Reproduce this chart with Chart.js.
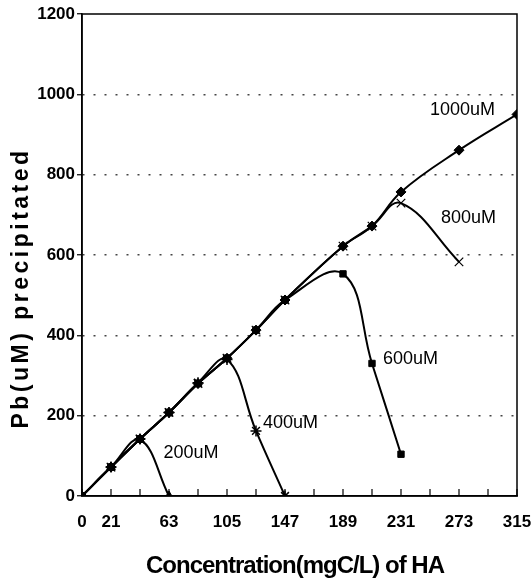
<!DOCTYPE html>
<html>
<head>
<meta charset="utf-8">
<script src="https://cdn.jsdelivr.net/npm/chart.js@4.4.0/dist/chart.umd.min.js"></script>
<style>
  html, body { margin: 0; padding: 0; background: #fff; }
  #wrap { width: 531px; height: 584px; }
</style>
</head>
<body>
<div id="wrap"><canvas id="haChart" width="531" height="584"></canvas></div>
<script>
// axis ticks: every 21 mgC/L on x, but only some carry a label
const xTickLabels = [0, 21, 63, 105, 147, 189, 231, 273, 315];
const yTickValues = [0, 200, 400, 600, 800, 1000, 1200];

// Pb precipitated (uM) vs HA concentration, one series per initial Pb
const conc200 = [0, 21, 42, 63];
const pb200 = [0, 72, 140, 0];
const conc400 = [0, 21, 42, 63, 84, 105, 126, 147];
const pb400 = [0, 72, 142, 208, 282, 340, 162, 0];
const conc600 = [0, 21, 42, 63, 84, 105, 126, 147, 189, 210, 231];
const pb600 = [0, 72, 142, 208, 280, 343, 413, 488, 553, 330, 104];
const conc800 = [0, 21, 42, 63, 84, 105, 126, 147, 189, 210, 231, 273];
const pb800 = [0, 72, 142, 208, 280, 343, 413, 488, 622, 672, 729, 583];
const conc1000 = [0, 21, 42, 63, 84, 105, 126, 147, 189, 210, 231, 273, 315];
const pb1000 = [0, 72, 142, 208, 280, 343, 413, 488, 622, 672, 757, 861, 950];

const seriesNames = ['200uM', '400uM', '600uM', '800uM', '1000uM'];

const FONT = "'Liberation Sans', Arial, sans-serif";

function toPoints(xs, ys) {
    return xs.map((x, i) => ({ x: x, y: ys[i] }));
}

function makeSeries(name, xs, ys, style, radius, border) {
    return {
        label: name,
        data: toPoints(xs, ys),
        borderColor: '#000',
        backgroundColor: '#000',
        borderWidth: 2,
        tension: 0.4,
        pointStyle: style,
        pointRadius: radius,
        pointBorderWidth: border,
        pointBackgroundColor: '#000',
        pointBorderColor: '#000'
    };
}

// where each series name is written (left edge, vertical middle), in data units
const seriesLabelSpots = {
    '1000uM': [252, 960],
    '800uM': [260, 691],
    '600uM': [218, 341],
    '400uM': [131, 182],
    '200uM': [59, 107]
};

const framePlugin = {
    id: 'frame',
    afterDraw(chart) {
        const ctx = chart.ctx;
        const area = chart.chartArea;
        const xs = chart.scales.x;
        const ys = chart.scales.y;
        ctx.save();

        // closed box around the plot
        ctx.strokeStyle = '#000';
        ctx.lineWidth = 1.5;
        ctx.setLineDash([]);
        ctx.strokeRect(area.left, area.top, area.right - area.left, area.bottom - area.top);

        // small x ticks pointing into the plot
        ctx.lineWidth = 1.2;
        xs.ticks.forEach(t => {
            const px = xs.getPixelForValue(t.value);
            ctx.beginPath();
            ctx.moveTo(px, area.bottom);
            ctx.lineTo(px, area.bottom - 7);
            ctx.stroke();
        });

        // series names
        ctx.fillStyle = '#000';
        ctx.font = '18px ' + FONT;
        ctx.textAlign = 'left';
        ctx.textBaseline = 'middle';
        seriesNames.forEach(name => {
            const spot = seriesLabelSpots[name];
            ctx.fillText(name, xs.getPixelForValue(spot[0]), ys.getPixelForValue(spot[1]));
        });

        // axis titles
        ctx.textAlign = 'center';
        ctx.font = 'bold 24px ' + FONT;
        if ('letterSpacing' in ctx) ctx.letterSpacing = '-1px';
        ctx.fillText('Concentration(mgC/L) of HA', 295, 566);

        ctx.translate(22, 288);
        ctx.rotate(-Math.PI / 2);
        ctx.font = 'bold 23px ' + FONT;
        if ('letterSpacing' in ctx) ctx.letterSpacing = '3.5px';
        ctx.fillText('Pb(uM) precipitated', 0, 0);
        ctx.restore();
    }
};

const ctx = document.getElementById('haChart').getContext('2d');
new Chart(ctx, {
    type: 'line',
    data: {
        datasets: [
            makeSeries(seriesNames[0], conc200, pb200, 'triangle', 5, 1),
            makeSeries(seriesNames[1], conc400, pb400, 'star', 5.5, 1.5),
            makeSeries(seriesNames[2], conc600, pb600, 'rect', 4.5, 1),
            makeSeries(seriesNames[3], conc800, pb800, 'crossRot', 6, 1.2),
            makeSeries(seriesNames[4], conc1000, pb1000, 'rectRot', 5, 1)
        ]
    },
    options: {
        responsive: false,
        animation: false,
        layout: { padding: { left: 0, right: 14, top: 14, bottom: 0 } },
        plugins: {
            legend: { display: false },
            tooltip: { enabled: false }
        },
        scales: {
            x: {
                type: 'linear',
                min: 0,
                max: 315,
                afterFit: scale => {
                    scale.height = 88;
                    scale.paddingLeft = 0;
                    scale.paddingRight = 0;
                },
                ticks: {
                    stepSize: 21,
                    autoSkip: false,
                    maxRotation: 0,
                    padding: 16,
                    color: '#000',
                    font: { family: FONT, size: 17, weight: 'bold' },
                    callback: v => xTickLabels.includes(v) ? String(v) : ''
                },
                grid: { drawOnChartArea: false, drawTicks: false },
                border: { color: '#000', width: 1.5 }
            },
            y: {
                min: 0,
                max: 1200,
                afterFit: scale => {
                    scale.width = 82;
                    scale.paddingTop = 0;
                    scale.paddingBottom = 0;
                },
                afterBuildTicks: scale => {
                    scale.ticks = yTickValues.map(v => ({ value: v }));
                },
                ticks: {
                    padding: 2,
                    color: '#000',
                    font: { family: FONT, size: 17, weight: 'bold' },
                    callback: v => String(v)
                },
                grid: {
                    color: c => (c.tick && (c.tick.value === 0 || c.tick.value === 1200)) ? 'rgba(0,0,0,0)' : '#444',
                    lineWidth: 1.5,
                    tickLength: 5,
                    tickColor: '#000',
                    tickBorderDash: [],
                    tickWidth: 1.2
                },
                border: { color: '#000', width: 1.5, dash: [2, 9] }
            }
        }
    },
    plugins: [framePlugin]
});
</script>
</body>
</html>
